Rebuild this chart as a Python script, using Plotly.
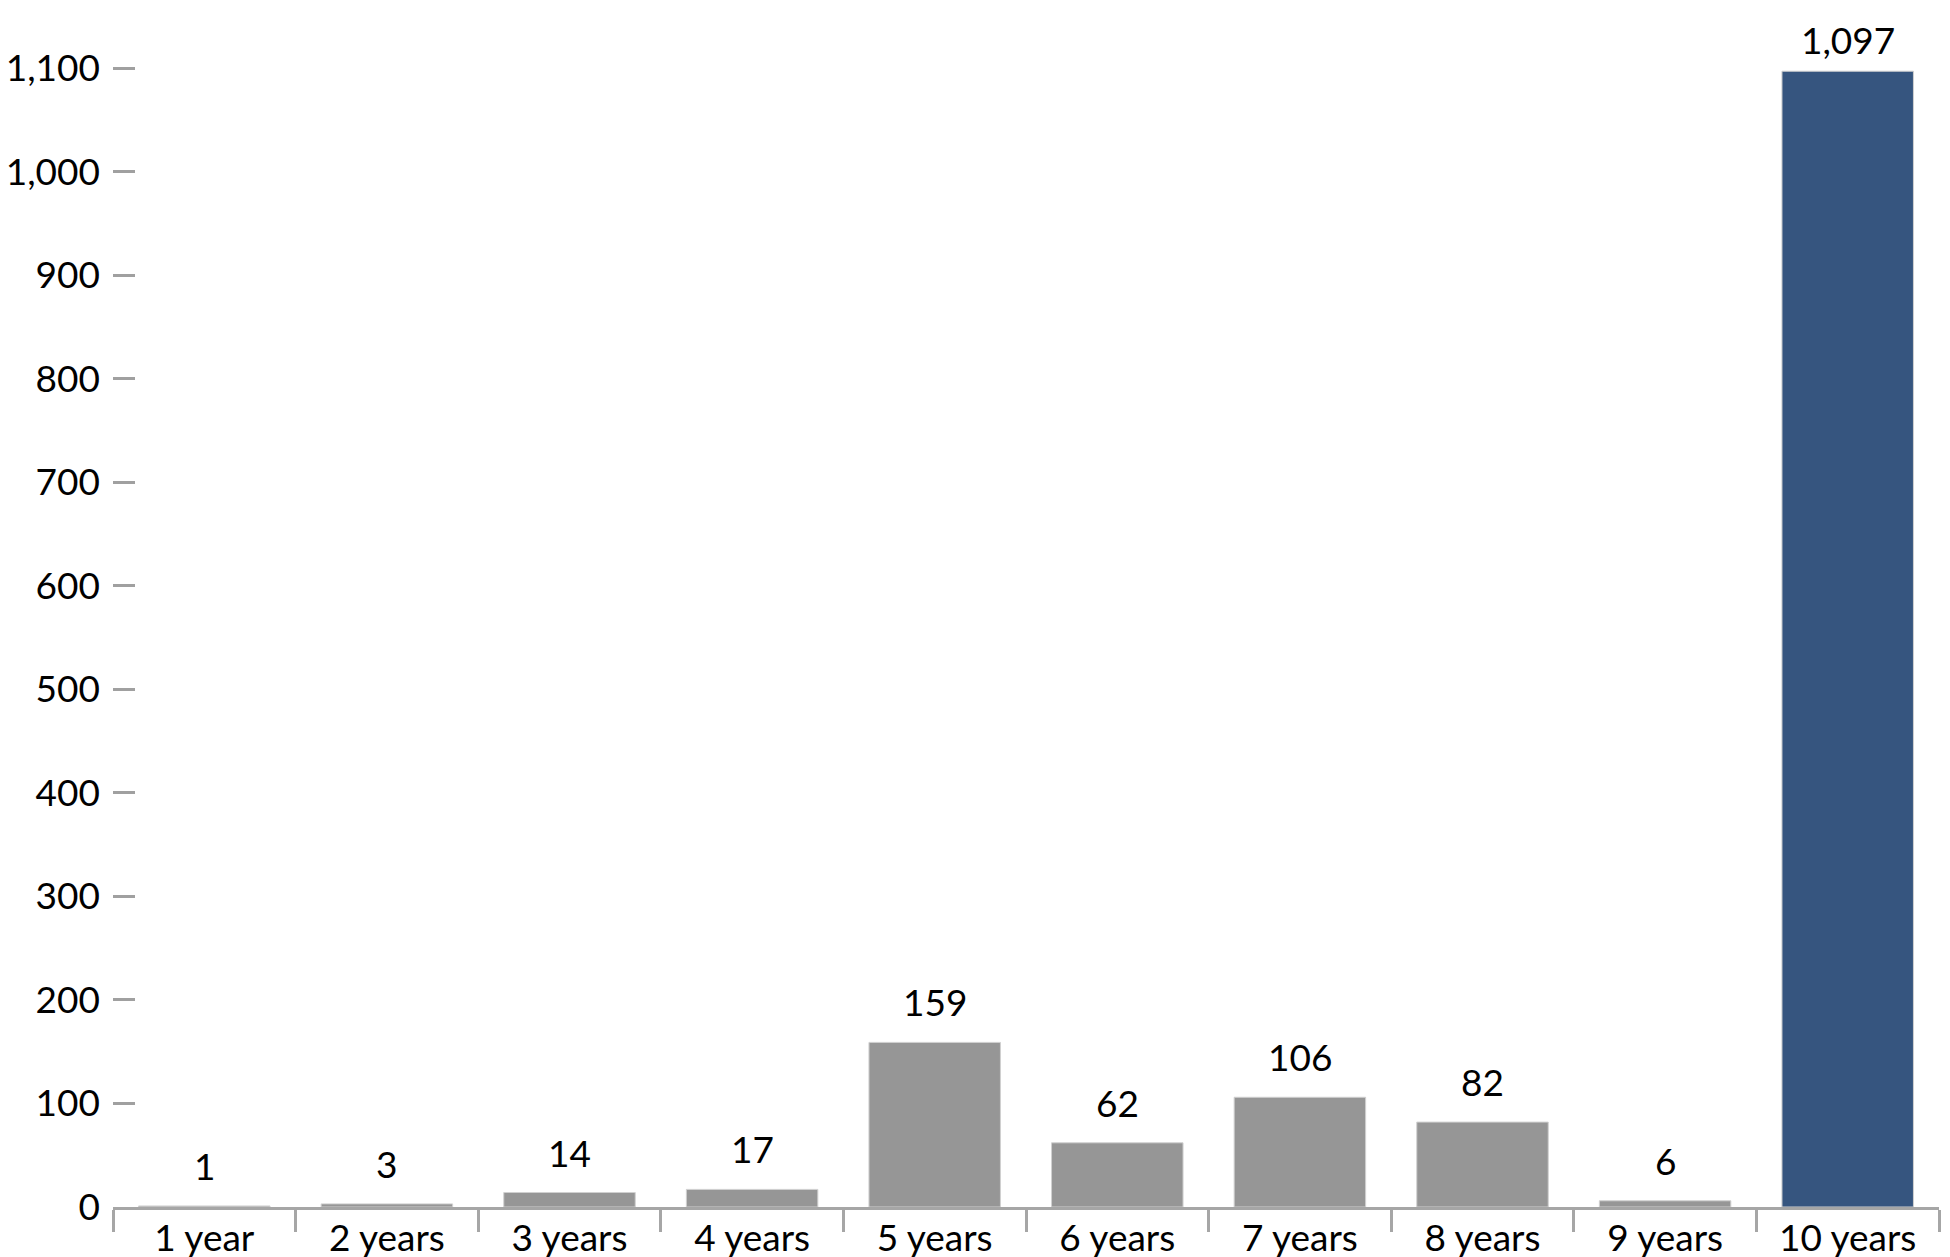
import plotly.graph_objects as go

categories = ["1 year", "2 years", "3 years", "4 years", "5 years",
              "6 years", "7 years", "8 years", "9 years", "10 years"]
values = [1, 3, 14, 17, 159, 62, 106, 82, 6, 1097]
value_labels = ["1", "3", "14", "17", "159", "62", "106", "82", "6", "1,097"]
tick_vals = [0, 100, 200, 300, 400, 500, 600, 700, 800, 900, 1000, 1100]

GREY = "#969696"
BLUE = "#36557f"
colors = [GREY] * 9 + [BLUE]
label_shift = [16] * 9 + [7]
FONT = "Lato"
FS = 37

fig = go.Figure()
fig.add_trace(go.Bar(
    x=categories, y=values,
    marker=dict(color=colors, line=dict(color="#d0d0d0", width=1)),
    width=0.72,
    hoverinfo="x+y",
))

for c, v, t, s in zip(categories, values, value_labels, label_shift):
    fig.add_annotation(x=c, y=v, text=t, showarrow=False,
                       yanchor="bottom", yshift=s,
                       font=dict(family=FONT, size=FS, color="#000000"))

fig.update_layout(
    width=1950, height=1257,
    margin=dict(l=113, r=11, t=65, b=50),
    paper_bgcolor="white", plot_bgcolor="white",
    showlegend=False,
    font=dict(family=FONT, size=FS, color="#000000"),
    xaxis=dict(
        type="category", automargin=False,
        showline=True, linecolor="#a6a6a6", linewidth=3,
        ticks="outside", tickson="boundaries", ticklen=22,
        tickwidth=3, tickcolor="#a6a6a6",
        ticklabelstandoff=-3,
        showgrid=False, zeroline=False,
        tickfont=dict(family=FONT, size=FS, color="#000000"),
    ),
    yaxis=dict(
        range=[0, 1103], automargin=False,
        tickvals=tick_vals,
        tickformat=",d",
        ticks="inside", ticklen=22, tickwidth=3, tickcolor="#a0a0a0",
        showline=False, showgrid=False, zeroline=False,
        ticklabelstandoff=12,
        tickfont=dict(family=FONT, size=FS, color="#000000"),
    ),
    bargap=0.28,
)

fig.write_html(
    "out.html",
    config={"displayModeBar": False},
    post_script="document.body.style.margin='0';document.body.style.padding='0';document.body.style.overflow='hidden';",
)
